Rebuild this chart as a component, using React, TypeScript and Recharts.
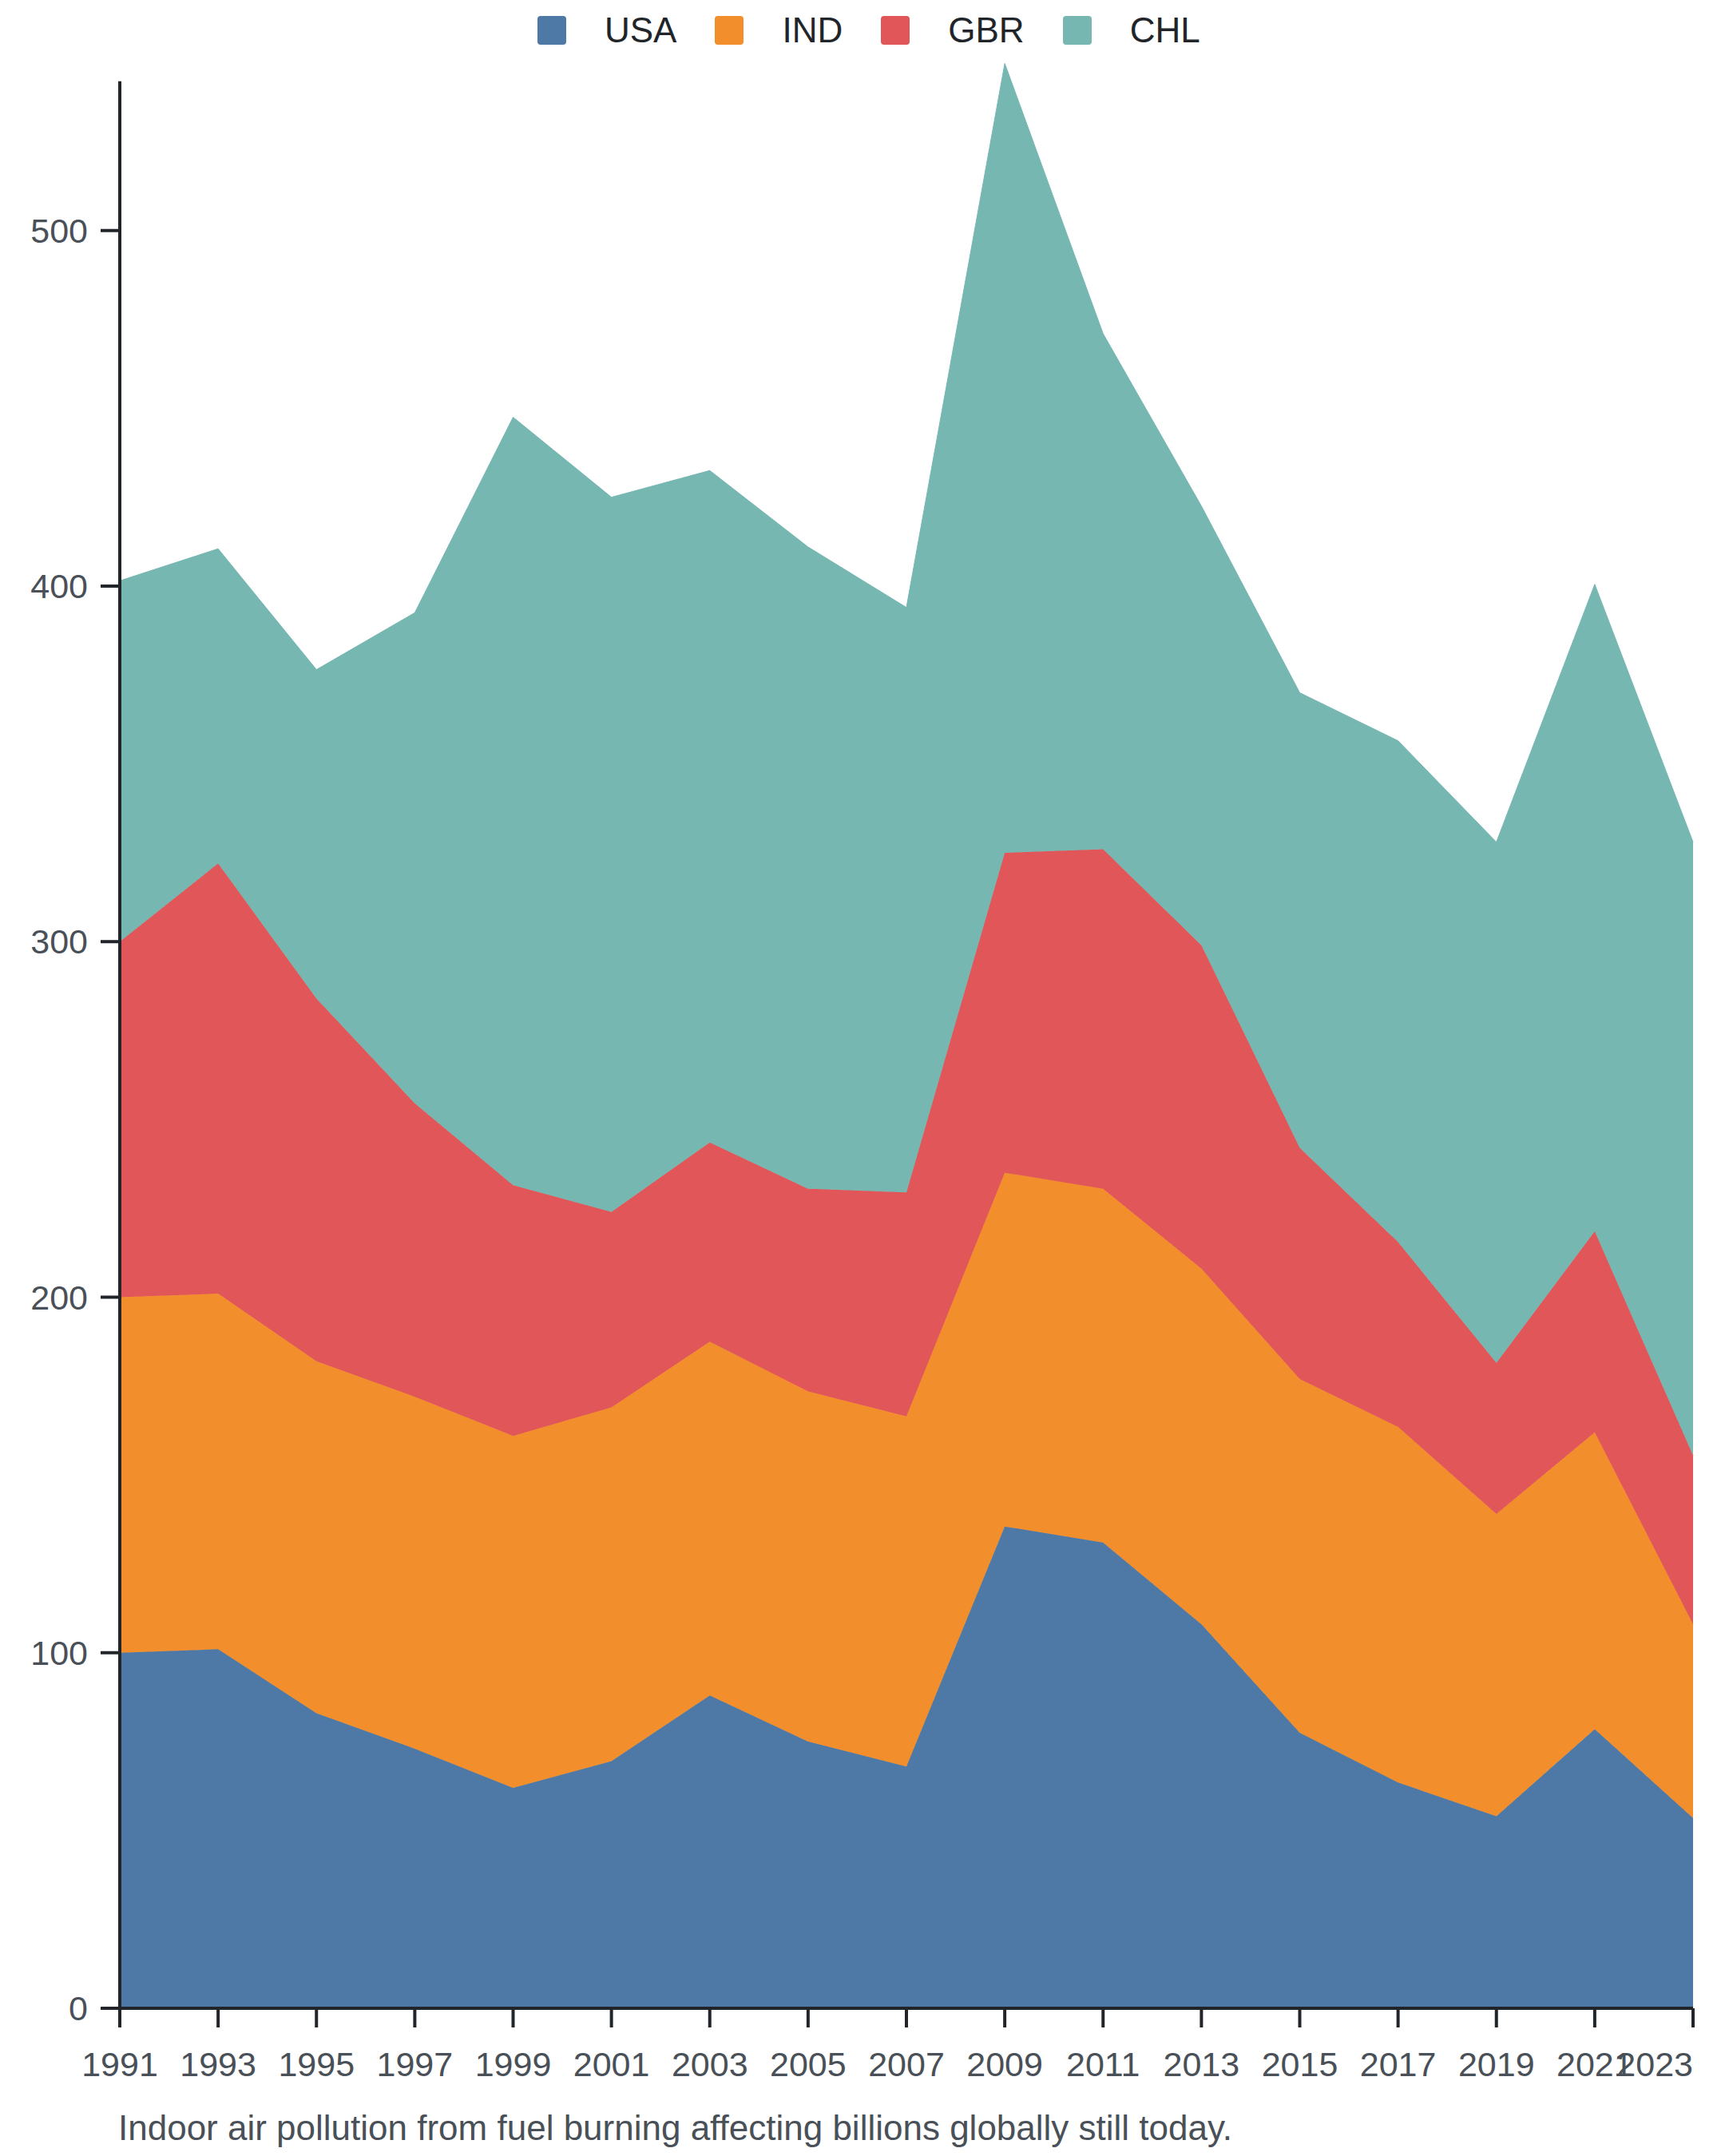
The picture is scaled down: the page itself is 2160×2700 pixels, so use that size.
import React from "react";
import { AreaChart, Area, XAxis, YAxis, ReferenceLine, Legend } from "recharts";

// Years on the x axis (every second year)
const YEARS = [
  "1991", "1993", "1995", "1997", "1999", "2001", "2003", "2005", "2007",
  "2009", "2011", "2013", "2015", "2017", "2019", "2021", "2023",
];

// Stacked series, bottom to top
const USA = [100, 101, 83, 73, 62, 69.5, 88, 75, 68, 135.5, 131, 108, 77.5, 63.5, 54, 78.5, 53.5];
const IND = [100, 100, 99, 99, 99, 99.5, 99.5, 98.5, 98.5, 99.5, 99.5, 100, 99.5, 100, 85, 83.5, 54.5];
const GBR = [100, 121, 102, 82.5, 70.5, 55, 56, 57, 63, 90, 95.5, 91, 65, 52, 42.5, 56.5, 47.5];
const CHL = [101.5, 88.5, 92.5, 138, 216, 201, 189, 180.5, 164.5, 222, 145, 123.5, 128, 141, 146.5, 182, 172.5];

const Y_TICKS = [0, 100, 200, 300, 400, 500];

const SERIES = [
  { key: "USA", color: "#4e79a7" },
  { key: "IND", color: "#f28e2b" },
  { key: "GBR", color: "#e15759" },
  { key: "CHL", color: "#76b7b2" },
];

const CAPTION = "Indoor air pollution from fuel burning affecting billions globally still today.";

const FONT = '"Liberation Sans", Arial, Helvetica, sans-serif';
const AXIS_COLOR = "#212529";
const LABEL_COLOR = "#495057";

const data = YEARS.map((year, i) => ({
  year,
  USA: USA[i],
  IND: IND[i],
  GBR: GBR[i],
  CHL: CHL[i],
}));

const LegendContent = () => (
  <div
    style={{
      height: 75,
      display: "flex",
      alignItems: "center",
      paddingLeft: 673,
      boxSizing: "border-box",
    }}
  >
    {SERIES.map((s, i) => (
      <div
        key={s.key}
        style={{
          display: "flex",
          alignItems: "center",
          marginRight: i < SERIES.length - 1 ? 48 : 0,
        }}
      >
        <span
          style={{
            width: 36,
            height: 36,
            borderRadius: 4,
            background: s.color,
            display: "inline-block",
            marginRight: 48,
          }}
        />
        <span style={{ fontFamily: FONT, fontSize: 44, color: AXIS_COLOR, lineHeight: "normal" }}>
          {s.key}
        </span>
      </div>
    ))}
  </div>
);

// eslint-disable-next-line @typescript-eslint/no-explicit-any
const XTick = (props: any) => {
  const { x, y, payload } = props;
  // the last label is pulled inside the plot, ending on its tick
  const isLast = payload.index === YEARS.length - 1;
  return (
    <text
      x={x}
      y={y}
      dy="0.71em"
      textAnchor={isLast ? "end" : "middle"}
      fill={LABEL_COLOR}
      fontFamily={FONT}
      fontSize={43}
    >
      {payload.value}
    </text>
  );
};

export default function App() {
  return (
    <div style={{ position: "absolute", left: 0, top: 0, width: 2160, height: 2700, background: "#fff" }}>
      <AreaChart
        width={2160}
        height={2700}
        data={data}
        margin={{ top: 0, right: 40, left: 0, bottom: 65 }}
      >
        <Legend
          verticalAlign="top"
          align="left"
          content={<LegendContent />}
          wrapperStyle={{ top: 0, left: 0, width: 2160, height: 75, margin: 0 }}
        />
        <XAxis
          dataKey="year"
          interval={0}
          height={120}
          axisLine={{ stroke: AXIS_COLOR, strokeWidth: 4 }}
          tickLine={{ stroke: AXIS_COLOR, strokeWidth: 4 }}
          tickSize={24}
          tickMargin={30}
          tick={<XTick />}
        />
        <YAxis
          width={150}
          domain={[0, 548]}
          ticks={Y_TICKS}
          axisLine={false}
          tickLine={{ stroke: AXIS_COLOR, strokeWidth: 4 }}
          tickSize={24}
          tickMargin={16}
          tick={{ fill: LABEL_COLOR, fontSize: 43, fontFamily: FONT }}
        />
        {SERIES.map((s) => (
          <Area
            key={s.key}
            type="linear"
            dataKey={s.key}
            stackId="1"
            stroke={s.color}
            strokeWidth={1}
            fill={s.color}
            fillOpacity={1}
            isAnimationActive={false}
          />
        ))}
        {/* y axis line stops short of the 2009 peak, as in the original */}
        <ReferenceLine
          segment={[
            { x: "1991", y: 0 },
            { x: "1991", y: 542 },
          ]}
          stroke={AXIS_COLOR}
          strokeWidth={4}
          ifOverflow="visible"
        />
      </AreaChart>
      <div
        style={{
          position: "absolute",
          left: 148,
          top: 2640,
          fontFamily: FONT,
          fontSize: 44,
          lineHeight: "normal",
          color: LABEL_COLOR,
          whiteSpace: "nowrap",
        }}
      >
        {CAPTION}
      </div>
    </div>
  );
}
